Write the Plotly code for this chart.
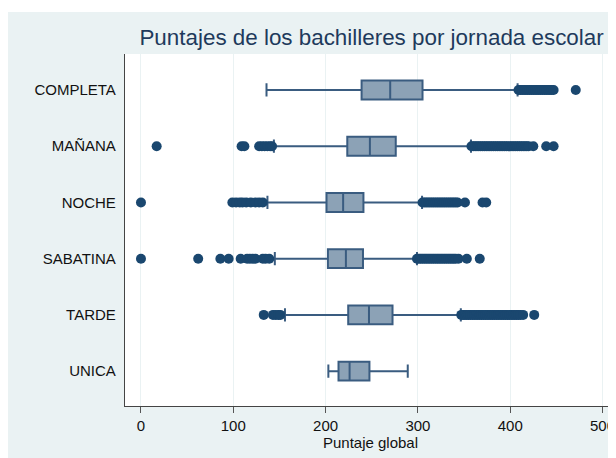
import plotly.graph_objects as go

categories = ["COMPLETA", "MAÑANA", "NOCHE", "SABATINA", "TARDE", "UNICA"]
q1 = [239, 223.5, 201, 202.5, 224.5, 214]
median = [270, 248, 219, 222, 247, 226]
q3 = [305, 276, 241, 240.5, 272.5, 247.5]
lower_whisker = [136, 144, 137, 145, 156, 203]
upper_whisker = [408, 357.5, 304.5, 299, 346.5, 289]

out_completa = [409, 411, 413, 415, 417, 419, 421, 423, 425, 427, 429, 431, 433,
                435, 437, 439, 441, 443, 445, 447, 471]
out_manana = [17, 109, 112, 128, 131, 134, 137, 140, 142,
              358, 360, 362, 364, 366, 368, 370, 372, 374, 376, 378, 380, 382,
              384, 386, 388, 390, 392, 394, 396, 398, 400, 402, 404, 406, 408,
              410, 412, 414, 416, 418, 420, 425, 439, 447]
out_noche = [0, 99, 103, 107, 110, 114, 119, 124, 128, 132,
             305, 307, 309, 311, 313, 315, 317, 319, 321, 323, 325, 327, 329,
             331, 333, 335, 337, 339, 341, 343, 351, 370, 374]
out_sabatina = [0, 62, 86, 95, 108, 115, 118, 121, 124, 132, 135, 139,
                299, 301, 303, 305, 307, 309, 311, 313, 315, 317, 319, 321, 323,
                325, 327, 329, 331, 333, 335, 337, 339, 341, 344, 353, 367]
out_tarde = [133, 143, 146, 149, 151,
             347, 349, 351, 353, 355, 357, 359, 361, 363, 365, 367, 369, 371,
             373, 375, 377, 379, 381, 383, 385, 387, 389, 391, 393, 395, 397,
             399, 401, 403, 405, 407, 409, 411, 414, 426]
out_unica = []
outliers = [out_completa, out_manana, out_noche, out_sabatina, out_tarde, out_unica]

x_ticks = [0, 100, 200, 300, 400, 500]

NAVY = "#1A476F"
BOXLINE = "#3A5C80"
FILL = "#8CA2B6"
BG = "#EAF2F3"
FONT = "Liberation Sans, Arial, sans-serif"

fig = go.Figure()
fig.add_trace(go.Box(
    y=categories, q1=q1, median=median, q3=q3,
    lowerfence=lower_whisker, upperfence=upper_whisker,
    orientation="h", boxpoints=False,
    fillcolor=FILL, line=dict(color=BOXLINE, width=2),
    whiskerwidth=0.7, showlegend=False, hoverinfo="skip",
))

ox, oy = [], []
for cat, vals in zip(categories, outliers):
    ox.extend(vals)
    oy.extend([cat] * len(vals))
fig.add_trace(go.Scatter(
    x=ox, y=oy, mode="markers",
    marker=dict(color=NAVY, size=10, line=dict(width=0)),
    showlegend=False, hoverinfo="skip",
))

fig.update_layout(
    width=608, height=450,
    margin=dict(l=117, r=0, t=46, b=52),
    paper_bgcolor=BG, plot_bgcolor="white",
    boxgap=0.52,
    font=dict(family=FONT, size=15, color="#111111"),
    title=dict(text="Puntajes de los bachilleres por jornada escolar",
               font=dict(family=FONT, size=22.4, color="#1E3A5C"),
               x=0.598, xref="container", xanchor="center",
               y=1 - 29.5 / 450, yref="container", yanchor="middle"),
    xaxis=dict(range=[-17.3, 514.6], tickvals=x_ticks,
               ticktext=[str(v) for v in x_ticks],
               showgrid=True, gridcolor=BG, gridwidth=1, zeroline=False,
               showline=True, linecolor="#444444", linewidth=1.3,
               ticks="outside", ticklen=6, tickcolor="#555555", tickwidth=1.2,
               tickfont=dict(size=15, color="#111111"),
               title=dict(text="Puntaje global", font=dict(size=15, color="#111111"),
                          standoff=4)),
    yaxis=dict(type="category", categoryorder="array", categoryarray=categories,
               range=[5.62, -0.64], showgrid=False, zeroline=False,
               showline=True, linecolor="#444444", linewidth=1.3,
               ticks="", ticklabelstandoff=5,
               tickfont=dict(size=15, color="#111111")),
    shapes=[
        dict(type="rect", xref="paper", yref="paper", x0=-0.3, x1=1.05,
             y0=1.1193, y1=1.3, fillcolor="white", line=dict(width=0), layer="above"),
    ],
)

fig.write_html("out.html")
